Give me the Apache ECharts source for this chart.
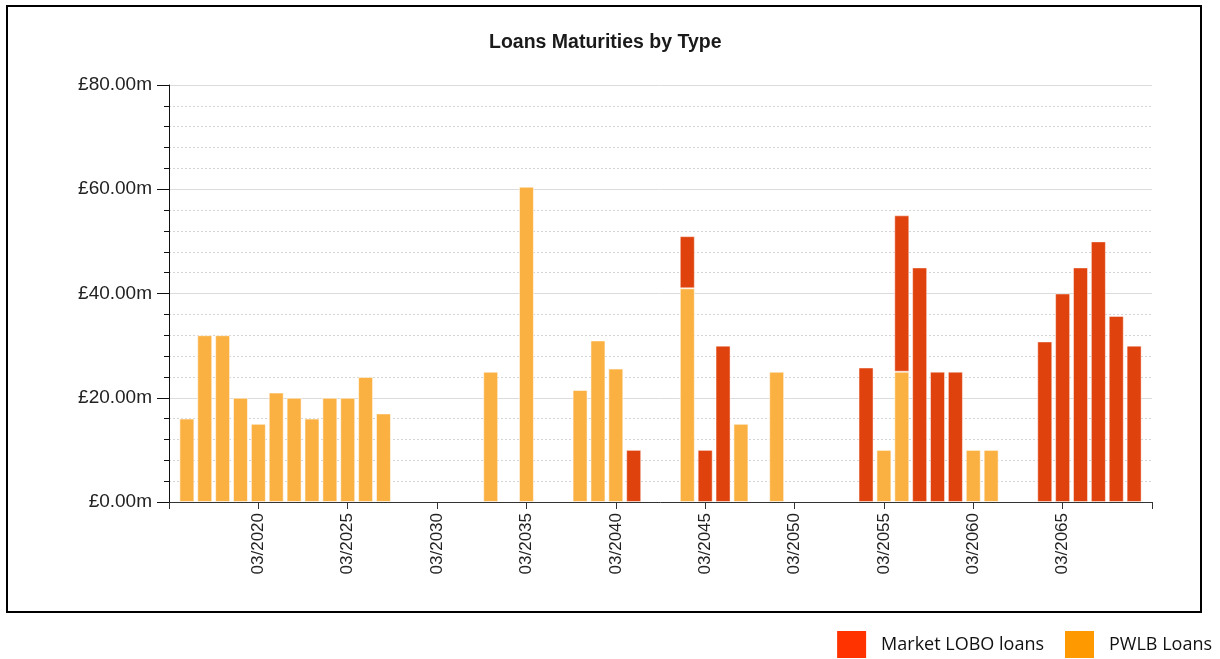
<!DOCTYPE html>
<html>
<head>
<meta charset="utf-8">
<title>Loans Maturities by Type</title>
<script src="https://cdn.jsdelivr.net/npm/echarts@6/dist/echarts.min.js"></script>
<style>
  html, body { margin: 0; padding: 0; background: #fff; }
  #chart { width: 1220px; height: 659px; }
</style>
</head>
<body>
<div id="chart"></div>
<script>
// Maturity years (March of each year)
const years = [2016, 2017, 2018, 2019, 2020, 2021, 2022, 2023, 2024, 2025, 2026, 2027,
  2033, 2035, 2038, 2039, 2040, 2041, 2044, 2045, 2046, 2047, 2049,
  2054, 2055, 2056, 2057, 2058, 2059, 2060, 2061,
  2064, 2065, 2066, 2067, 2068, 2069];

// PWLB loans maturing, £m (null = none)
const pwlb = [16, 32, 32, 20, 15, 21, 20, 16, 20, 20, 24, 17,
  25, 60.5, 21.5, 31, 25.6, null, 41, null, null, 15, 25,
  null, 10, 25, null, null, null, 10, 10,
  null, null, null, null, null, null];

// Market LOBO loans maturing, £m (null = none)
const lobo = [null, null, null, null, null, null, null, null, null, null, null, null,
  null, null, null, null, null, 10, 10, 10, 30, null, null,
  25.8, null, 30, 45, 25, 25, null, null,
  30.8, 40, 45, 50, 35.7, 30];

// Axis span and labelled years
const firstYear = 2015;
const lastYear = 2070;
const xTickYears = [2020, 2025, 2030, 2035, 2040, 2045, 2050, 2055, 2060, 2065];
const yTicks = [0, 20, 40, 60, 80];

const seriesNames = ['Market LOBO loans', 'PWLB Loans'];

const barOrange = '#FBB142';
const barRed = '#E0420D';

// One category per year across the whole axis
const axisYears = [];
for (let y = firstYear; y <= lastYear; y++) axisYears.push(String(y));

function alignToAxis(values) {
  return axisYears.map(function (y) {
    const i = years.indexOf(Number(y));
    return i >= 0 && values[i] != null ? values[i] : '-';
  });
}

const chart = echarts.init(document.getElementById('chart'), null, { renderer: 'canvas' });

const option = {
  animation: false,
  backgroundColor: '#fff',
  title: {
    text: 'Loans Maturities by Type',
    left: 484,
    top: 28,
    textStyle: {
      fontFamily: 'Liberation Sans, Arial, sans-serif',
      fontSize: 19.5,
      fontWeight: 'bold',
      color: '#1a1a1a'
    }
  },
  graphic: [{
    type: 'rect',
    shape: { x: 7, y: 6, width: 1194, height: 606 },
    style: { fill: 'none', stroke: '#000', lineWidth: 2 },
    silent: true,
    z: 100
  }],
  legend: {
    right: 3,
    top: 626,
    icon: 'rect',
    itemWidth: 29,
    itemHeight: 27,
    itemGap: 21,
    textStyle: {
      fontFamily: 'Open Sans, Liberation Sans, sans-serif',
      fontSize: 18,
      color: '#111',
      padding: [0, 0, 0, 10]
    },
    data: [
      { name: seriesNames[0], itemStyle: { color: '#FF3300', borderWidth: 0 } },
      { name: seriesNames[1], itemStyle: { color: '#FF9900', borderWidth: 0 } }
    ]
  },
  grid: {
    left: 169,
    right: 68,
    top: 85,
    bottom: 157
  },
  xAxis: {
    type: 'category',
    data: axisYears,
    boundaryGap: false,
    axisLine: { show: true, lineStyle: { color: '#333', width: 1 } },
    axisTick: { show: true, length: 7, interval: 4, lineStyle: { color: '#333' } },
    splitLine: { show: false },
    axisLabel: {
      rotate: 90,
      margin: 11,
      interval: 4,
      fontFamily: 'Liberation Sans, Arial, sans-serif',
      fontSize: 17,
      color: '#222',
      formatter: function (v) {
        return xTickYears.indexOf(Number(v)) >= 0 ? '03/' + v : '';
      }
    }
  },
  yAxis: {
    type: 'value',
    min: yTicks[0],
    max: yTicks[yTicks.length - 1],
    interval: 20,
    axisLine: { show: true, lineStyle: { color: '#111', width: 1 } },
    axisTick: { show: true, length: 12, inside: false, lineStyle: { color: '#111' } },
    minorTick: { show: true, splitNumber: 5, length: 5, lineStyle: { color: '#111' } },
    splitLine: { show: true, lineStyle: { color: '#dcdcdc', width: 1 } },
    minorSplitLine: { show: true, lineStyle: { color: '#d4d4d4', type: [2, 2], width: 1 } },
    axisLabel: {
      margin: 17,
      fontFamily: 'Liberation Sans, Arial, sans-serif',
      fontSize: 19,
      color: '#222',
      formatter: function (v) { return '£' + v.toFixed(2) + 'm'; }
    }
  },
  series: [
    {
      name: seriesNames[1],
      type: 'bar',
      stack: 'loans',
      barWidth: 15,
      itemStyle: { color: barOrange, borderColor: 'rgba(255,255,255,0.55)', borderWidth: 1 },
      data: alignToAxis(pwlb)
    },
    {
      name: seriesNames[0],
      type: 'bar',
      stack: 'loans',
      barWidth: 15,
      itemStyle: { color: barRed, borderColor: 'rgba(255,255,255,0.45)', borderWidth: 1 },
      data: alignToAxis(lobo)
    }
  ]
};

chart.setOption(option);
</script>
</body>
</html>
